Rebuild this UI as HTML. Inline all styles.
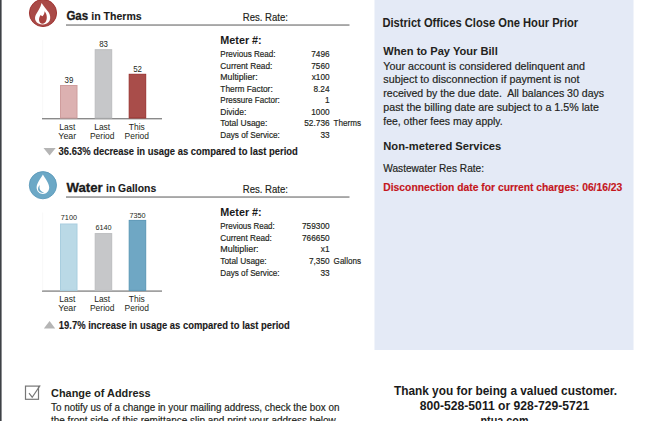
<!DOCTYPE html>
<html><head><meta charset="utf-8"><style>
html,body{margin:0;padding:0;background:#fff;overflow:hidden;}
svg{display:block;}
text{font-family:"Liberation Sans",sans-serif;}
text.n{stroke:currentColor;stroke-width:0.18;}
</style></head><body>
<svg width="655" height="421" viewBox="0 0 655 421">
<rect x="0" y="0" width="1.6" height="421" fill="#3e4146"/>
<rect x="374.5" y="0" width="259" height="350" fill="#e4eaf6"/>
<rect x="66" y="24.2" width="283.5" height="1.7" fill="#9d9d9d"/>
<rect x="66" y="196.2" width="283.5" height="1.7" fill="#9d9d9d"/>
<rect x="42" y="118" width="120" height="1.4" fill="#8a8a8a"/>
<rect x="42.5" y="40" width="0.6" height="78" fill="#f4f4f4"/>
<rect x="60.5" y="85.5" width="16.5" height="32.5" fill="#dcb1b1" stroke="#cf9d9d" stroke-width="1"/>
<rect x="95.2" y="49.7" width="16.5" height="68.3" fill="#c6c7c9" stroke="#bcbdbf" stroke-width="1"/>
<rect x="129.2" y="74.3" width="16.5" height="43.7" fill="#a94d4a" stroke="#9a3431" stroke-width="1"/>
<rect x="42" y="290.4" width="120" height="1.4" fill="#8a8a8a"/>
<rect x="42.5" y="212.4" width="0.6" height="78" fill="#f4f4f4"/>
<rect x="60.5" y="224.0" width="16.5" height="66.4" fill="#bad9e6" stroke="#a9cedf" stroke-width="1"/>
<rect x="95.2" y="233.6" width="16.5" height="56.8" fill="#c6c7c9" stroke="#bcbdbf" stroke-width="1"/>
<rect x="129.2" y="220.4" width="16.5" height="70.0" fill="#6fa7c4" stroke="#5b97b6" stroke-width="1"/>
<path d="M43.5 148 L55.7 148 L49.6 155.6 Z" fill="#b5b5b5"/>
<path d="M43.9 328.4 L55.2 328.4 L49.55 320.9 Z" fill="#b5b5b5"/>
<rect x="25.5" y="386.1" width="13" height="13.2" fill="none" stroke="#767676" stroke-width="1.2"/>
<path d="M29 393.2 L32.2 397.2 L40.2 385.4" fill="none" stroke="#777" stroke-width="1.15"/>
<circle cx="43" cy="13" r="13.6" fill="#a94a47" stroke="#9d2f2d" stroke-width="0.9"/>
<path d="M41.6 2.9 C43 5.5 46.5 9 48.6 12.3 C50.2 15 50.8 18 49.6 20.8 C48.4 23.2 45.5 24.5 42.6 24.5 C39.5 24.5 37 23.2 35.8 21.1 C34.6 19 34.9 16.5 36 14.5 C37.5 11.5 40.5 8 41.6 2.9 Z" fill="#fff"/>
<path d="M44.5 11.3 C46 13 46.9 15 46.8 17.5 C46.7 20.6 45.5 23.4 42.6 23.7 C40.6 23.7 39.1 22.3 39 20 C38.9 18 39.7 16.3 40.7 14.9 C41.2 15.6 41.8 16 42.6 16.2 C43.9 14.8 44.6 13.3 44.5 11.3 Z" fill="#a8423f"/>
<circle cx="42.9" cy="185.2" r="13.6" fill="#6ca8c6" stroke="#5c9aba" stroke-width="0.9"/>
<path d="M42.9 174.5 C44.5 178 49.2 182.5 49.2 187.6 C49.2 191.2 46.4 194.1 42.9 194.1 C39.4 194.1 36.6 191.2 36.6 187.6 C36.6 182.5 41.3 178 42.9 174.5 Z" fill="#fff"/>
<path d="M39.9 184.9 C38.1 186.4 37.6 188.9 38.4 190.6 C39.2 192.2 41.5 193.2 44.2 193 C42.4 192.2 40.9 191.2 40.1 189.8 C39.4 188.4 39.3 186.6 39.9 184.9 Z" fill="#6aa6c4"/>
<text x="66.4" y="20.3" font-size="13" font-weight="bold" fill="#1a1a1a" color="#1a1a1a" text-anchor="start" textLength="21.8" lengthAdjust="spacingAndGlyphs"  stroke="#1a1a1a" stroke-width="0.3">Gas</text>
<text x="91.3" y="20.3" font-size="10.2" font-weight="bold" fill="#1a1a1a" color="#1a1a1a" text-anchor="start" textLength="50.4" lengthAdjust="spacingAndGlyphs"  stroke="#1a1a1a" stroke-width="0.1">in Therms</text>
<text class="n" x="242.8" y="20.7" font-size="11.6" font-weight="normal" fill="#231f20" color="#231f20" text-anchor="start" textLength="45.2" lengthAdjust="spacingAndGlyphs" >Res. Rate:</text>
<text x="66.4" y="192.3" font-size="13" font-weight="bold" fill="#1a1a1a" color="#1a1a1a" text-anchor="start" textLength="36.3" lengthAdjust="spacingAndGlyphs"  stroke="#1a1a1a" stroke-width="0.3">Water</text>
<text x="106" y="192.3" font-size="10.2" font-weight="bold" fill="#1a1a1a" color="#1a1a1a" text-anchor="start" textLength="50.2" lengthAdjust="spacingAndGlyphs"  stroke="#1a1a1a" stroke-width="0.1">in Gallons</text>
<text class="n" x="242.8" y="192.7" font-size="11.6" font-weight="normal" fill="#231f20" color="#231f20" text-anchor="start" textLength="45.2" lengthAdjust="spacingAndGlyphs" >Res. Rate:</text>
<text x="68.9" y="83.4" font-size="8.6" font-weight="normal" fill="#231f20" color="#231f20" text-anchor="middle" textLength="8.8" lengthAdjust="spacingAndGlyphs" >39</text>
<text x="103.60000000000001" y="46.7" font-size="8.6" font-weight="normal" fill="#231f20" color="#231f20" text-anchor="middle" textLength="8.8" lengthAdjust="spacingAndGlyphs" >83</text>
<text x="137.6" y="71.7" font-size="8.6" font-weight="normal" fill="#231f20" color="#231f20" text-anchor="middle" textLength="8.8" lengthAdjust="spacingAndGlyphs" >52</text>
<text x="67.3" y="129.7" font-size="9.4" font-weight="normal" fill="#231f20" color="#231f20" text-anchor="middle" textLength="15.99" lengthAdjust="spacingAndGlyphs" >Last</text>
<text x="67.3" y="138.6" font-size="9.4" font-weight="normal" fill="#231f20" color="#231f20" text-anchor="middle" textLength="17.87" lengthAdjust="spacingAndGlyphs" >Year</text>
<text x="102.2" y="129.7" font-size="9.4" font-weight="normal" fill="#231f20" color="#231f20" text-anchor="middle" textLength="15.99" lengthAdjust="spacingAndGlyphs" >Last</text>
<text x="102.2" y="138.6" font-size="9.4" font-weight="normal" fill="#231f20" color="#231f20" text-anchor="middle" textLength="24.45" lengthAdjust="spacingAndGlyphs" >Period</text>
<text x="136.8" y="129.7" font-size="9.4" font-weight="normal" fill="#231f20" color="#231f20" text-anchor="middle" textLength="15.98" lengthAdjust="spacingAndGlyphs" >This</text>
<text x="136.8" y="138.6" font-size="9.4" font-weight="normal" fill="#231f20" color="#231f20" text-anchor="middle" textLength="24.45" lengthAdjust="spacingAndGlyphs" >Period</text>
<text x="68.9" y="220.3" font-size="7.9" font-weight="normal" fill="#231f20" color="#231f20" text-anchor="middle" textLength="16.17" lengthAdjust="spacingAndGlyphs" >7100</text>
<text x="103.60000000000001" y="230" font-size="7.9" font-weight="normal" fill="#231f20" color="#231f20" text-anchor="middle" textLength="16.17" lengthAdjust="spacingAndGlyphs" >6140</text>
<text x="137.6" y="217.5" font-size="7.9" font-weight="normal" fill="#231f20" color="#231f20" text-anchor="middle" textLength="16.17" lengthAdjust="spacingAndGlyphs" >7350</text>
<text x="67.3" y="302.1" font-size="9.4" font-weight="normal" fill="#231f20" color="#231f20" text-anchor="middle" textLength="15.99" lengthAdjust="spacingAndGlyphs" >Last</text>
<text x="67.3" y="311.0" font-size="9.4" font-weight="normal" fill="#231f20" color="#231f20" text-anchor="middle" textLength="17.87" lengthAdjust="spacingAndGlyphs" >Year</text>
<text x="102.2" y="302.1" font-size="9.4" font-weight="normal" fill="#231f20" color="#231f20" text-anchor="middle" textLength="15.99" lengthAdjust="spacingAndGlyphs" >Last</text>
<text x="102.2" y="311.0" font-size="9.4" font-weight="normal" fill="#231f20" color="#231f20" text-anchor="middle" textLength="24.45" lengthAdjust="spacingAndGlyphs" >Period</text>
<text x="136.8" y="302.1" font-size="9.4" font-weight="normal" fill="#231f20" color="#231f20" text-anchor="middle" textLength="15.98" lengthAdjust="spacingAndGlyphs" >This</text>
<text x="136.8" y="311.0" font-size="9.4" font-weight="normal" fill="#231f20" color="#231f20" text-anchor="middle" textLength="24.45" lengthAdjust="spacingAndGlyphs" >Period</text>
<text x="220.3" y="43.9" font-size="11.6" font-weight="bold" fill="#1a1a1a" color="#1a1a1a" text-anchor="start" textLength="41.4" lengthAdjust="spacingAndGlyphs" >Meter #:</text>
<text class="n" x="220.3" y="57.25" font-size="9.2" font-weight="normal" fill="#231f20" color="#231f20" text-anchor="start" textLength="55.2" lengthAdjust="spacingAndGlyphs" >Previous Read:</text>
<text class="n" x="329.6" y="57.25" font-size="9.2" font-weight="normal" fill="#231f20" color="#231f20" text-anchor="end" textLength="18.42" lengthAdjust="spacingAndGlyphs" >7496</text>
<text class="n" x="220.3" y="68.79" font-size="9.2" font-weight="normal" fill="#231f20" color="#231f20" text-anchor="start" textLength="52.0" lengthAdjust="spacingAndGlyphs" >Current Read:</text>
<text class="n" x="329.6" y="68.79" font-size="9.2" font-weight="normal" fill="#231f20" color="#231f20" text-anchor="end" textLength="18.42" lengthAdjust="spacingAndGlyphs" >7560</text>
<text class="n" x="220.3" y="80.33" font-size="9.2" font-weight="normal" fill="#231f20" color="#231f20" text-anchor="start" textLength="37.4" lengthAdjust="spacingAndGlyphs" >Multiplier:</text>
<text class="n" x="329.6" y="80.33" font-size="9.2" font-weight="normal" fill="#231f20" color="#231f20" text-anchor="end" textLength="17.95" lengthAdjust="spacingAndGlyphs" >x100</text>
<text class="n" x="220.3" y="91.87" font-size="9.2" font-weight="normal" fill="#231f20" color="#231f20" text-anchor="start" textLength="52.4" lengthAdjust="spacingAndGlyphs" >Therm Factor:</text>
<text class="n" x="329.6" y="91.87" font-size="9.2" font-weight="normal" fill="#231f20" color="#231f20" text-anchor="end" textLength="16.12" lengthAdjust="spacingAndGlyphs" >8.24</text>
<text class="n" x="220.3" y="103.41" font-size="9.2" font-weight="normal" fill="#231f20" color="#231f20" text-anchor="start" textLength="59.5" lengthAdjust="spacingAndGlyphs" >Pressure Factor:</text>
<text class="n" x="329.6" y="103.41" font-size="9.2" font-weight="normal" fill="#231f20" color="#231f20" text-anchor="end" textLength="4.6" lengthAdjust="spacingAndGlyphs" >1</text>
<text class="n" x="220.3" y="114.95" font-size="9.2" font-weight="normal" fill="#231f20" color="#231f20" text-anchor="start" textLength="26.0" lengthAdjust="spacingAndGlyphs" >Divide:</text>
<text class="n" x="329.6" y="114.95" font-size="9.2" font-weight="normal" fill="#231f20" color="#231f20" text-anchor="end" textLength="18.42" lengthAdjust="spacingAndGlyphs" >1000</text>
<text class="n" x="220.3" y="126.49" font-size="9.2" font-weight="normal" fill="#231f20" color="#231f20" text-anchor="start" textLength="47.1" lengthAdjust="spacingAndGlyphs" >Total Usage:</text>
<text class="n" x="329.6" y="126.49" font-size="9.2" font-weight="normal" fill="#231f20" color="#231f20" text-anchor="end" textLength="25.33" lengthAdjust="spacingAndGlyphs" >52.736</text>
<text class="n" x="220.3" y="138.03" font-size="9.2" font-weight="normal" fill="#231f20" color="#231f20" text-anchor="start" textLength="59.5" lengthAdjust="spacingAndGlyphs" >Days of Service:</text>
<text class="n" x="329.6" y="138.03" font-size="9.2" font-weight="normal" fill="#231f20" color="#231f20" text-anchor="end" textLength="9.21" lengthAdjust="spacingAndGlyphs" >33</text>
<text class="n" x="333.6" y="126.49" font-size="9.2" font-weight="normal" fill="#231f20" color="#231f20" text-anchor="start" textLength="27.4" lengthAdjust="spacingAndGlyphs" >Therms</text>
<text x="220.3" y="215.9" font-size="11.6" font-weight="bold" fill="#1a1a1a" color="#1a1a1a" text-anchor="start" textLength="41.4" lengthAdjust="spacingAndGlyphs" >Meter #:</text>
<text class="n" x="220.3" y="229.25" font-size="9.2" font-weight="normal" fill="#231f20" color="#231f20" text-anchor="start" textLength="54.4" lengthAdjust="spacingAndGlyphs" >Previous Read:</text>
<text class="n" x="329.6" y="229.25" font-size="9.2" font-weight="normal" fill="#231f20" color="#231f20" text-anchor="end" textLength="27.63" lengthAdjust="spacingAndGlyphs" >759300</text>
<text class="n" x="220.3" y="240.85" font-size="9.2" font-weight="normal" fill="#231f20" color="#231f20" text-anchor="start" textLength="51.6" lengthAdjust="spacingAndGlyphs" >Current Read:</text>
<text class="n" x="329.6" y="240.85" font-size="9.2" font-weight="normal" fill="#231f20" color="#231f20" text-anchor="end" textLength="27.63" lengthAdjust="spacingAndGlyphs" >766650</text>
<text class="n" x="220.3" y="252.45" font-size="9.2" font-weight="normal" fill="#231f20" color="#231f20" text-anchor="start" textLength="38.3" lengthAdjust="spacingAndGlyphs" >Multiplier:</text>
<text class="n" x="329.6" y="252.45" font-size="9.2" font-weight="normal" fill="#231f20" color="#231f20" text-anchor="end" textLength="8.74" lengthAdjust="spacingAndGlyphs" >x1</text>
<text class="n" x="220.3" y="264.05" font-size="9.2" font-weight="normal" fill="#231f20" color="#231f20" text-anchor="start" textLength="46.3" lengthAdjust="spacingAndGlyphs" >Total Usage:</text>
<text class="n" x="329.6" y="264.05" font-size="9.2" font-weight="normal" fill="#231f20" color="#231f20" text-anchor="end" textLength="20.72" lengthAdjust="spacingAndGlyphs" >7,350</text>
<text class="n" x="220.3" y="275.65" font-size="9.2" font-weight="normal" fill="#231f20" color="#231f20" text-anchor="start" textLength="59.3" lengthAdjust="spacingAndGlyphs" >Days of Service:</text>
<text class="n" x="329.6" y="275.65" font-size="9.2" font-weight="normal" fill="#231f20" color="#231f20" text-anchor="end" textLength="9.21" lengthAdjust="spacingAndGlyphs" >33</text>
<text class="n" x="333.6" y="264.05" font-size="9.2" font-weight="normal" fill="#231f20" color="#231f20" text-anchor="start" textLength="27.4" lengthAdjust="spacingAndGlyphs" >Gallons</text>
<text x="58.5" y="155" font-size="10.2" font-weight="bold" fill="#1a1a1a" color="#1a1a1a" text-anchor="start" textLength="239.3" lengthAdjust="spacingAndGlyphs"  stroke="#1a1a1a" stroke-width="0.12">36.63% decrease in usage as compared to last period</text>
<text x="58.8" y="328.8" font-size="10.2" font-weight="bold" fill="#1a1a1a" color="#1a1a1a" text-anchor="start" textLength="231" lengthAdjust="spacingAndGlyphs"  stroke="#1a1a1a" stroke-width="0.12">19.7% increase in usage as compared to last period</text>
<text x="382.4" y="26.6" font-size="12.6" font-weight="bold" fill="#231f20" color="#231f20" text-anchor="start" textLength="195.8" lengthAdjust="spacingAndGlyphs" >District Offices Close One Hour Prior</text>
<text x="383.3" y="54.5" font-size="11.2" font-weight="bold" fill="#231f20" color="#231f20" text-anchor="start" textLength="114.5" lengthAdjust="spacingAndGlyphs" >When to Pay Your Bill</text>
<text class="n" x="383.3" y="69.6" font-size="10.8" font-weight="normal" fill="#231f20" color="#231f20" text-anchor="start" textLength="201.7" lengthAdjust="spacingAndGlyphs" xml:space="preserve">Your account is considered delinquent and</text>
<text class="n" x="383.3" y="83.45" font-size="10.8" font-weight="normal" fill="#231f20" color="#231f20" text-anchor="start" textLength="196.1" lengthAdjust="spacingAndGlyphs" xml:space="preserve">subject to disconnection if payment is not</text>
<text class="n" x="383.3" y="97.3" font-size="10.8" font-weight="normal" fill="#231f20" color="#231f20" text-anchor="start" textLength="220.8" lengthAdjust="spacingAndGlyphs" xml:space="preserve">received by the due date.  All balances 30 days</text>
<text class="n" x="383.3" y="111.15" font-size="10.8" font-weight="normal" fill="#231f20" color="#231f20" text-anchor="start" textLength="215.6" lengthAdjust="spacingAndGlyphs" xml:space="preserve">past the billing date are subject to a 1.5% late</text>
<text class="n" x="383.3" y="125.0" font-size="10.8" font-weight="normal" fill="#231f20" color="#231f20" text-anchor="start" textLength="119.4" lengthAdjust="spacingAndGlyphs" xml:space="preserve">fee, other fees may apply.</text>
<text x="383.3" y="149.8" font-size="11.2" font-weight="bold" fill="#231f20" color="#231f20" text-anchor="start" textLength="118" lengthAdjust="spacingAndGlyphs" >Non-metered Services</text>
<text class="n" x="383.3" y="172" font-size="10.2" font-weight="normal" fill="#231f20" color="#231f20" text-anchor="start" textLength="100.7" lengthAdjust="spacingAndGlyphs" >Wastewater Res Rate:</text>
<text x="383.3" y="191.3" font-size="10.4" font-weight="bold" fill="#c4161c" color="#c4161c" text-anchor="start" textLength="239" lengthAdjust="spacingAndGlyphs"  stroke="#c4161c" stroke-width="0.15">Disconnection date for current charges: 06/16/23</text>
<text x="51" y="396.6" font-size="11.4" font-weight="bold" fill="#231f20" color="#231f20" text-anchor="start" textLength="99.7" lengthAdjust="spacingAndGlyphs" >Change of Address</text>
<text class="n" x="51" y="410.5" font-size="10.2" font-weight="normal" fill="#231f20" color="#231f20" text-anchor="start" textLength="288.4" lengthAdjust="spacingAndGlyphs" >To notify us of a change in your mailing address, check the box on</text>
<text class="n" x="51" y="424.3" font-size="10.2" font-weight="normal" fill="#231f20" color="#231f20" text-anchor="start" textLength="284.7" lengthAdjust="spacingAndGlyphs" >the front side of this remittance slip and print your address below</text>
<text x="505.5" y="395.0" font-size="12" font-weight="bold" fill="#1a1a1a" color="#1a1a1a" text-anchor="middle" textLength="223.1" lengthAdjust="spacingAndGlyphs" >Thank you for being a valued customer.</text>
<text x="504.5" y="410.1" font-size="12" font-weight="bold" fill="#1a1a1a" color="#1a1a1a" text-anchor="middle" textLength="169.5" lengthAdjust="spacingAndGlyphs" >800-528-5011 or 928-729-5721</text>
<text x="504.5" y="425.2" font-size="12" font-weight="bold" fill="#1a1a1a" color="#1a1a1a" text-anchor="middle" textLength="48.0" lengthAdjust="spacingAndGlyphs" >ntua.com</text>
</svg></body></html>
